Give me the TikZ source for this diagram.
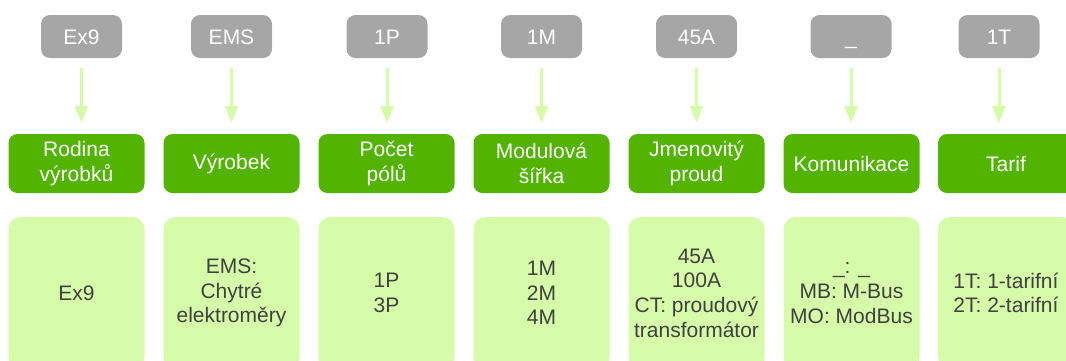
\documentclass[tikz,border=0pt]{standalone}
\usepackage{fontspec}
\setmainfont{Liberation Sans}
\usetikzlibrary{arrows.meta}

\definecolor{codegrey}{HTML}{A6A6A6}
\definecolor{fieldgreen}{HTML}{52B400}
\definecolor{valuegreen}{HTML}{D6FCAA}
\definecolor{valuetext}{HTML}{404040}

\tikzset{
  codebox/.style={fill=codegrey, text=white, rounded corners=9pt,
    minimum width=81pt, minimum height=43pt, inner sep=0pt,
    text height=15pt, text depth=0pt,
    font=\fontsize{21}{24.7}\selectfont},
  fieldbox/.style={fill=fieldgreen, text=white, rounded corners=9pt, align=center,
    minimum width=136pt, minimum height=59pt, inner sep=0pt,
    font=\fontsize{21}{24.7}\selectfont},
  valuebox/.style={fill=valuegreen, text=valuetext, rounded corners=12pt, align=center,
    minimum width=136pt, minimum height=152pt, inner sep=0pt,
    font=\fontsize{21}{24.7}\selectfont},
  codearrow/.style={draw=valuegreen, line width=3pt,
    -{Triangle[width=13pt,length=17pt]}, shorten <=10pt, shorten >=11pt}
}

\begin{document}
\begin{tikzpicture}[x=1pt,y=-1pt]
				\clip (0,0) rectangle (1066,360);
				
				% Code parts (grey)
				\node[codebox] (c1) at (81.5, 36.5) {Ex9};
				\node[codebox] (c2) at (231.5, 36.5) {EMS};
				\node[codebox] (c3) at (387, 36.5) {1P};
				\node[codebox] (c4) at (541.5, 36.5) {1M};
				\node[codebox] (c5) at (696.5, 36.5) {45A};
				\node[codebox] (c6) at (851, 36.5) {\_};
				\node[codebox] (c7) at (999, 36.5) {1T};
				
				% Field names (green)
				\node[fieldbox] (f1) at (76.5, 163.5) {Rodina\\výrobků};
				\node[fieldbox] (f2) at (231.5, 163.5) {Výrobek};
				\node[fieldbox] (f3) at (386.5, 163.5) {Počet\\pólů};
				\node[fieldbox] (f4) at (541.5, 163.5) {Modulová\\šířka};
				\node[fieldbox] (f5) at (696.5, 163.5) {Jmenovitý\\proud};
				\node[fieldbox] (f6) at (851.5, 163.5) {Komunikace};
				\node[fieldbox] (f7) at (1006, 163.5) {Tarif};
				
				% Values (light green)
				\node[valuebox] (v1) at (76.5, 293) {Ex9};
				\node[valuebox] (v2) at (231.5, 293) {EMS:\\Chytré\\elektroměry};
				\node[valuebox] (v3) at (386.5, 293) {1P\\3P};
				\node[valuebox] (v4) at (541.5, 293) {1M\\2M\\4M};
				\node[valuebox] (v5) at (696.5, 293) {45A\\100A\\CT: proudový\\transformátor};
				\node[valuebox] (v6) at (851.5, 293) {\_: \_\\MB: M-Bus\\MO: ModBus};
				\node[valuebox] (v7) at (1006, 293) {1T: 1-tarifní\\2T: 2-tarifní};
				
				% Arrows from code to field
				\draw[codearrow] (c1.south) -- (c1.south |- f1.north);
				\draw[codearrow] (c2.south) -- (c2.south |- f2.north);
				\draw[codearrow] (c3.south) -- (c3.south |- f3.north);
				\draw[codearrow] (c4.south) -- (c4.south |- f4.north);
				\draw[codearrow] (c5.south) -- (c5.south |- f5.north);
				\draw[codearrow] (c6.south) -- (c6.south |- f6.north);
				\draw[codearrow] (c7.south) -- (c7.south |- f7.north);
			\end{tikzpicture}
\end{document}
